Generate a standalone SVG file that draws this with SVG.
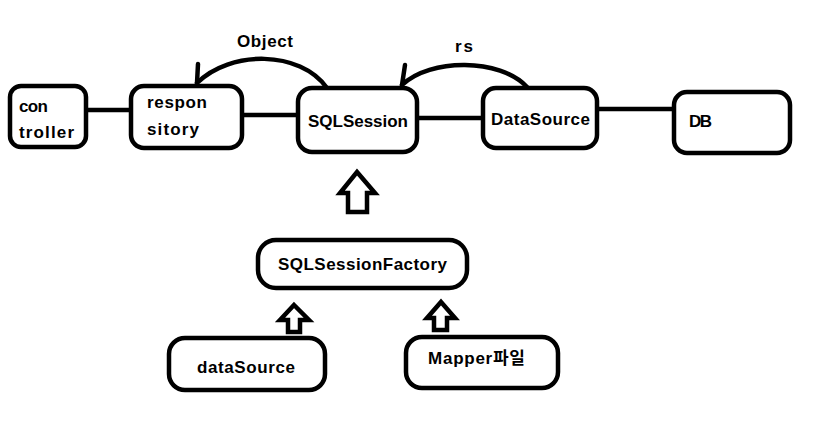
<svg xmlns="http://www.w3.org/2000/svg" width="821" height="442" viewBox="0 0 821 442">
<style>
.box{fill:#fff;stroke:#000;stroke-width:4.5}
.ln{fill:none;stroke:#000;stroke-width:4.5;stroke-linecap:round;stroke-linejoin:round}
.bar{fill:#fff;stroke:#000;stroke-width:4.5;stroke-linejoin:miter}
text{font-family:"Liberation Sans","Noto Sans CJK KR",sans-serif;font-weight:bold;font-size:17px;fill:#000}
</style>
<rect width="821" height="442" fill="#fff"/>
<g id="connectors">
<line class="ln" x1="86" y1="110" x2="131" y2="110"/>
<line class="ln" x1="242" y1="115" x2="298" y2="115"/>
<line class="ln" x1="417" y1="118" x2="483" y2="118"/>
<line class="ln" x1="597" y1="109" x2="675" y2="109"/>
<path class="ln" d="M327,88 C300,50 230,50 197,83"/>
<line class="ln" x1="197" y1="83" x2="198" y2="64"/>
<path class="ln" d="M527,87 C500,58 430,58 402,85"/>
<line class="ln" x1="402" y1="85" x2="405" y2="65"/>
<text x="237" y="47" textLength="56">Object</text>
<text x="455" y="52" textLength="18">rs</text>
<polygon class="bar" points="357,172 375,193 367,193 367,212 348,212 348,193 340,193"/>
<polygon class="bar" points="294,305 309,320 300,320 300,332 288,332 288,320 280,320"/>
<polygon class="bar" points="441,302 455,318 447,318 447,330 434,330 434,318 427,318"/>
</g>
<g id="controller">
<rect class="box" x="10" y="86" width="76" height="61" rx="11"/>
<text x="19" y="112" textLength="29">con</text>
<text x="19" y="138" textLength="55">troller</text>
</g>
<g id="responsitory">
<rect class="box" x="131" y="86" width="111" height="62" rx="13"/>
<text x="147" y="108" textLength="60">respon</text>
<text x="147" y="135" textLength="52">sitory</text>
</g>
<g id="sqlsession">
<rect class="box" x="298" y="88" width="119" height="64" rx="14"/>
<text x="308" y="127" textLength="100">SQLSession</text>
</g>
<g id="datasource-top">
<rect class="box" x="483" y="88" width="114" height="60" rx="13"/>
<text x="491" y="125" textLength="99">DataSource</text>
</g>
<g id="db">
<rect class="box" x="674" y="92" width="116" height="61" rx="13"/>
<text x="689" y="127" textLength="23">DB</text>
</g>
<g id="factory">
<rect class="box" x="258" y="240" width="209" height="48" rx="18"/>
<text x="278" y="270" textLength="169">SQLSessionFactory</text>
</g>
<g id="datasource">
<rect class="box" x="169" y="338" width="156" height="52" rx="16"/>
<text x="197" y="373" textLength="98">dataSource</text>
</g>
<g id="mapper">
<rect class="box" x="406" y="337" width="152" height="51" rx="16"/>
<text x="428" y="364" textLength="97">Mapper파일</text>
</g>
</svg>
